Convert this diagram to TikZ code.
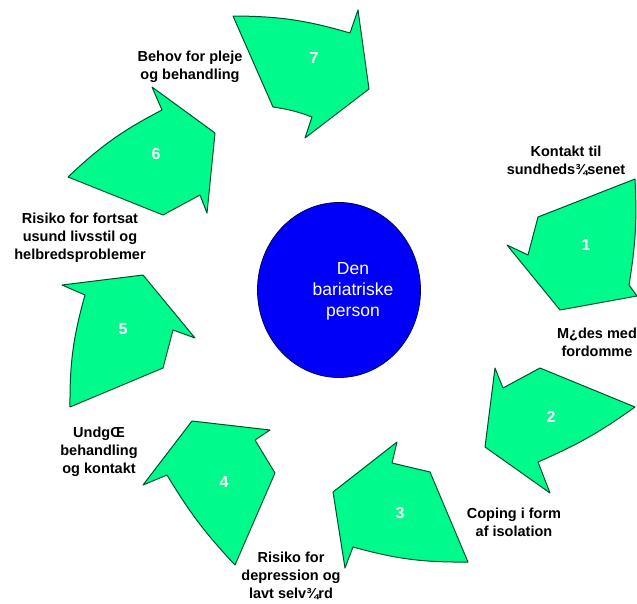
\documentclass[tikz,border=0pt]{standalone}
\usepackage{fontspec}
\setmainfont{Liberation Sans}
\usepackage{tikz}
\usetikzlibrary{shapes.geometric}

\definecolor{arrowgreen}{RGB}{0,250,140}
\definecolor{edgegreen}{RGB}{0,80,45}
\definecolor{personblue}{RGB}{0,0,250}

\tikzset{
    cyclearrow/.style={fill=arrowgreen, draw=edgegreen, line width=1pt, line join=round},
    steplabel/.style={font=\fontsize{14.5}{18}\selectfont\bfseries, align=center, inner sep=0pt},
    stepnum/.style={font=\fontsize{16}{18}\selectfont\bfseries, text=white, inner sep=0pt},
    personcircle/.style={ellipse, fill=personblue, draw=black!70!blue, line width=0.8pt,
        minimum width=163pt, minimum height=175pt, inner sep=0pt},
    persontext/.style={font=\fontsize{17.5}{21}\selectfont, text=white, align=center, inner sep=0pt}
}

\begin{document}
\begin{tikzpicture}[x=1pt, y=-1pt]
    \useasboundingbox (0,0) rectangle (637,603);

    % Centre
    \node[personcircle] (person) at (339,290) {};
    \node[persontext] (persontext) at (353,291) {Den\\bariatriske\\person};

    % Arrows, clockwise from the top
    \draw[cyclearrow] (233,16) to[bend left=8] (350,33) -- (358,10) -- (369,89) -- (305,138)
        -- (312,117) to[bend right=6] (273,107) -- cycle;
    \draw[cyclearrow] (635,179) to[bend left=6] (629,285) -- (637,296) -- (560,310) -- (507,245)
        -- (528,255) -- (538,217) -- cycle;
    \draw[cyclearrow] (635,407) to[bend left=6] (538,462) -- (550,493) -- (485,447) -- (495,368)
        -- (503,388) -- (540,368) -- cycle;
    \draw[cyclearrow] (468,562) to[bend left=8] (353,547) -- (345,568) -- (333,492) -- (397,442)
        -- (392,463) -- (430,472) -- cycle;
    \draw[cyclearrow] (235,565) to[bend left=6] (167,475) -- (143,485) -- (192,421) -- (270,430)
        -- (255,440) -- (275,473) -- cycle;
    \draw[cyclearrow] (70,407) to[bend left=8] (85,295) -- (62,285) -- (143,275) -- (195,338)
        -- (173,330) -- (163,368) -- cycle;
    \draw[cyclearrow] (68,177) to[bend left=8] (162,110) -- (152,87) -- (215,133) -- (207,213)
        -- (200,195) -- (163,215) -- cycle;

    % Numbers
    \node[stepnum] (n1) at (586,245) {1};
    \node[stepnum] (n2) at (551,417) {2};
    \node[stepnum] (n3) at (400,513) {3};
    \node[stepnum] (n4) at (224,482) {4};
    \node[stepnum] (n5) at (123,329) {5};
    \node[stepnum] (n6) at (156,154) {6};
    \node[stepnum] (n7) at (314,58) {7};

    % Labels
    \node[steplabel] (l1) at (566,161) {Kontakt til\\sundheds¾senet};
    \node[steplabel] (l2) at (597,342) {M¿des med\\fordomme};
    \node[steplabel] (l3) at (514,522) {Coping i form\\af isolation};
    \node[steplabel] (l4) at (291,576) {Risiko for\\depression og\\lavt selv¾rd};
    \node[steplabel] (l5) at (99,452) {UndgŒ\\behandling\\og kontakt};
    \node[steplabel] (l6) at (80,238) {Risiko for fortsat\\usund livsstil og\\helbredsproblemer};
    \node[steplabel] (l7) at (190,67) {Behov for pleje\\og behandling};
\end{tikzpicture}
\end{document}
